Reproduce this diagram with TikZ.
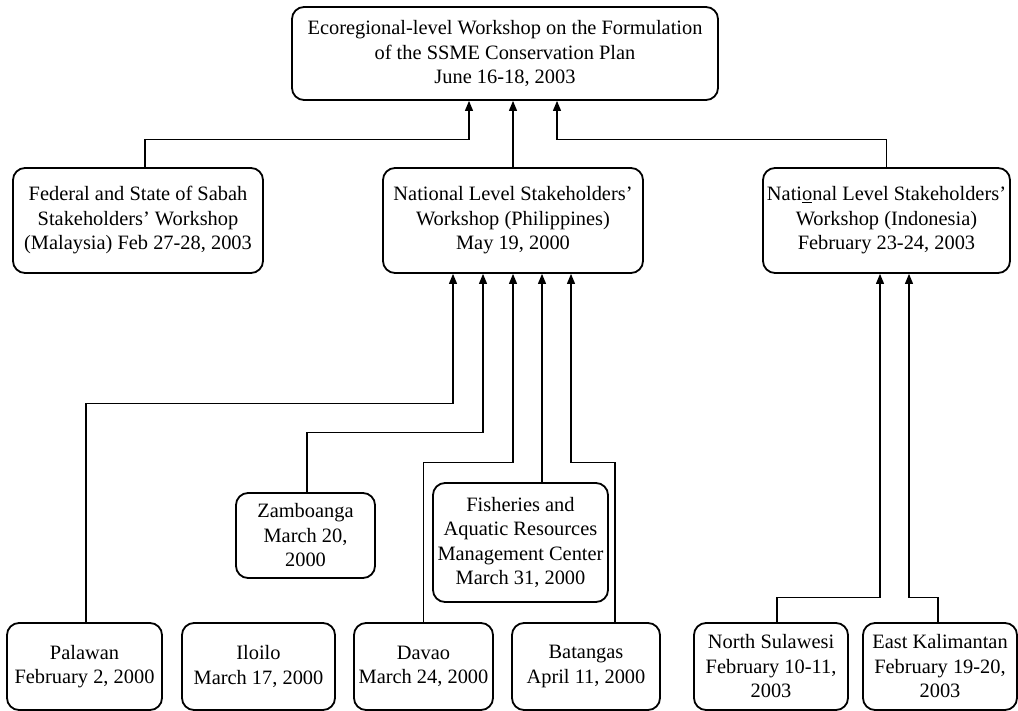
\documentclass[tikz,border=0pt]{standalone}
\usepackage{fontspec}
\setmainfont{Liberation Serif}
\usetikzlibrary{arrows.meta}
\tikzset{
  wsbox/.style={draw, line width=1.8pt, rounded corners=12pt, align=center,
    inner sep=0pt, font=\fontsize{20.4}{24.5}\selectfont,
    execute at begin node={\rule{0pt}{24pt}}},
  link/.style={line width=1.1pt, -{Triangle[length=10pt,width=8pt]}}
}
\begin{document}
\begin{tikzpicture}[x=1pt,y=-1pt]
\useasboundingbox (0,0) rectangle (1018,711);
% top level
\node[wsbox, minimum width=426pt, minimum height=93pt] (eco) at (505,53.5)
  {Ecoregional-level Workshop on the Formulation\\of the SSME Conservation Plan\\June 16-18, 2003};
% national workshops
\node[wsbox, minimum width=250pt, minimum height=105pt] (sabah) at (138,220.5)
  {Federal and State of Sabah\\Stakeholders’ Workshop\\(Malaysia) Feb 27-28, 2003};
\node[wsbox, minimum width=260pt, minimum height=105pt] (phil) at (513,220.5)
  {National Level Stakeholders’\\Workshop (Philippines)\\May 19, 2000};
\node[wsbox, minimum width=247pt, minimum height=105pt] (indo) at (886.5,220.5)
  {Nati\underline{o}nal Level Stakeholders’\\Workshop (Indonesia)\\February 23-24, 2003};
% local workshops
\node[wsbox, minimum width=139pt, minimum height=85pt] (zambo) at (305.5,535.5)
  {Zamboanga\\March 20,\\2000};
\node[wsbox, minimum width=175pt, minimum height=119pt] (fish) at (520.5,542.5)
  {Fisheries and\\Aquatic Resources\\Management Center\\March 31, 2000};
\node[wsbox, minimum width=155pt, minimum height=87pt] (palawan) at (84.5,666.5)
  {Palawan\\February 2, 2000};
\node[wsbox, minimum width=153pt, minimum height=87pt] (iloilo) at (258.5,666.5)
  {Iloilo\\March 17, 2000};
\node[wsbox, minimum width=139pt, minimum height=87pt] (davao) at (423.5,666.5)
  {Davao\\March 24, 2000};
\node[wsbox, minimum width=148pt, minimum height=87pt] (batangas) at (586,666.5)
  {Batangas\\April 11, 2000};
\node[wsbox, minimum width=154pt, minimum height=87pt] (nsul) at (771,666.5)
  {North Sulawesi\\February 10-11,\\2003};
\node[wsbox, minimum width=154pt, minimum height=87pt] (ekal) at (940,666.5)
  {East Kalimantan\\February 19-20,\\2003};
% links to the ecoregional workshop
\draw[link] ([xshift=7pt]sabah.north) -- ++(0,-28) -| ([xshift=-36pt]eco.south);
\draw[link] (phil.north) -- (phil.north |- eco.south);
\draw[link] (indo.north) -- ++(0,-28) -| ([xshift=52pt]eco.south);
% links to the Philippines workshop
\draw[link] ([xshift=1.5pt]palawan.north) -- ++(0,-219) -| ([xshift=-60pt]phil.south);
\draw[link] ([xshift=1.5pt]zambo.north) -- ++(0,-60) -| ([xshift=-30pt]phil.south);
\draw[link] (davao.north) -- ++(0,-160) -| (phil.south);
\draw[link] ([xshift=21.5pt]fish.north) -- ([xshift=29pt]phil.south);
\draw[link] ([xshift=29pt]batangas.north) -- ++(0,-160) -| ([xshift=58pt]phil.south);
% links to the Indonesia workshop
\draw[link] ([xshift=6pt]nsul.north) -- ++(0,-25) -| ([xshift=-6.5pt]indo.south);
\draw[link] ([xshift=-2pt]ekal.north) -- ++(0,-25) -| ([xshift=22.5pt]indo.south);
\end{tikzpicture}
\end{document}
